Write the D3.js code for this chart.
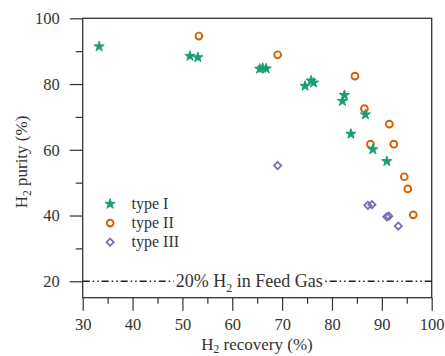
<!DOCTYPE html>
<html>
<head>
<meta charset="utf-8">
<script src="https://cdn.jsdelivr.net/npm/d3@7"></script>
<style>
  body { margin: 0; background: #fff; }
  svg text { font-family: "Liberation Serif", "Times New Roman", serif; fill: #333; }
  .domain { display: none; }
  .tick line { stroke: #333; stroke-width: 1.2; }
</style>
</head>
<body>
<svg width="445" height="356"></svg>
<script>
// H2 recovery (%) and H2 purity (%) per membrane type
var typeIRecovery = [33.3, 51.5, 53.1, 65.5, 66.1, 66.8, 74.6, 75.8, 76.3, 82.1, 82.5, 86.7, 83.8, 88.2, 91.0];
var typeIPurity   = [91.4, 88.5, 88.1, 84.6, 84.9, 84.7, 79.4, 81.0, 80.4, 74.8, 76.6, 70.7, 64.8, 60.1, 56.5];
var typeIIRecovery = [53.3, 69.1, 84.6, 86.5, 91.5, 87.7, 92.4, 94.5, 95.2, 96.3];
var typeIIPurity   = [94.6, 88.9, 82.4, 72.5, 67.8, 61.7, 61.7, 51.8, 48.1, 40.2];
var typeIIIRecovery = [69.1, 87.2, 88.0, 91.0, 91.4, 93.3];
var typeIIIPurity   = [55.2, 43.1, 43.3, 39.6, 39.8, 36.8];

var seriesNames = ['type I', 'type II', 'type III'];
var xTicks = [30, 40, 50, 60, 70, 80, 90, 100];
var xMinorTicks = [35, 45, 55, 65, 75, 85, 95];
var yTicks = [20, 40, 60, 80, 100];
var yMinorTicks = [30, 50, 70, 90];
var feedGasPurity = 20;

var serif = '"Liberation Serif", "Times New Roman", serif';

var svg = d3.select('svg');
var padding = {t: 18.3, r: 13.3, b: 58.3, l: 82.7};
var chartWidth = +svg.attr('width') - padding.l - padding.r;
var chartHeight = +svg.attr('height') - padding.t - padding.b;

var chartG = svg.append('g')
    .attr('transform', 'translate(' + [padding.l, padding.t] + ')');

var xScale = d3.scaleLinear().domain([30, 100]).range([0, chartWidth]);
var yScale = d3.scaleLinear().domain([15, 100]).range([chartHeight, 0]);

// minor ticks first, then labelled ticks
chartG.append('g')
    .attr('transform', 'translate(0,' + chartHeight + ')')
    .call(d3.axisBottom(xScale).tickValues(xMinorTicks).tickSize(6).tickFormat(''));
chartG.append('g')
    .attr('transform', 'translate(0,' + chartHeight + ')')
    .call(d3.axisBottom(xScale).tickValues(xTicks).tickSize(13).tickPadding(8))
    .selectAll('text').style('font-family', serif).style('font-size', '16.5px');

chartG.append('g')
    .call(d3.axisLeft(yScale).tickValues(yMinorTicks).tickSize(7).tickFormat(''));
chartG.append('g')
    .call(d3.axisLeft(yScale).tickValues(yTicks).tickSize(13).tickPadding(10))
    .selectAll('text').style('font-family', serif).style('font-size', '16.5px');

chartG.append('rect')
    .attr('width', chartWidth)
    .attr('height', chartHeight)
    .attr('fill', 'none')
    .attr('stroke', '#333')
    .attr('stroke-width', 1.3);

// feed gas reference line
chartG.append('line')
    .attr('x1', 0)
    .attr('x2', chartWidth)
    .attr('y1', yScale(feedGasPurity))
    .attr('y2', yScale(feedGasPurity))
    .attr('stroke', '#222')
    .attr('stroke-width', 1.6)
    .attr('stroke-dasharray', '7,3,1.5,3,1.5,3');

var refBg = chartG.append('rect').attr('fill', '#fff');
var refLabel = chartG.append('text')
    .attr('x', xScale(63.4))
    .attr('y', yScale(feedGasPurity) + 6)
    .attr('text-anchor', 'middle')
    .style('font-size', '18px');
refLabel.append('tspan').text('20% H');
refLabel.append('tspan').attr('dy', 5).style('font-size', '12px').text('2');
refLabel.append('tspan').attr('dy', -5).text(' in Feed Gas');
var bb = refLabel.node().getBBox();
refBg.attr('x', bb.x - 2)
    .attr('y', yScale(feedGasPurity) - 3)
    .attr('width', bb.width + 4)
    .attr('height', 6);

var colors = {'type I': '#1b9e77', 'type II': '#d95f02', 'type III': '#7570b3'};
var starPath = d3.symbol(d3.symbolStar, 32)();
var squarePath = d3.symbol(d3.symbolSquare, 26)();

function drawMarker(g, name, x, y) {
  if (name === 'type I') {
    g.append('path')
        .attr('d', starPath)
        .attr('transform', 'translate(' + [x, y] + ')')
        .attr('fill', colors[name])
        .attr('stroke', colors[name])
        .attr('stroke-width', 1)
        .attr('stroke-linejoin', 'round');
  } else if (name === 'type II') {
    g.append('circle')
        .attr('cx', x)
        .attr('cy', y)
        .attr('r', 3.4)
        .attr('fill', 'none')
        .attr('stroke', colors[name])
        .attr('stroke-width', 1.9);
  } else {
    g.append('path')
        .attr('d', squarePath)
        .attr('transform', 'translate(' + [x, y] + ') rotate(45)')
        .attr('fill', 'none')
        .attr('stroke', colors[name])
        .attr('stroke-width', 1.8);
  }
}

var series = [
  {name: 'type II', xs: typeIIRecovery, ys: typeIIPurity},
  {name: 'type III', xs: typeIIIRecovery, ys: typeIIIPurity},
  {name: 'type I', xs: typeIRecovery, ys: typeIPurity}
];
series.forEach(function(s) {
  s.xs.forEach(function(v, i) {
    drawMarker(chartG, s.name, xScale(v), yScale(s.ys[i]));
  });
});

// legend
var legendY = d3.scalePoint().domain(seriesNames).range([yScale(43.5), yScale(31.9)]);
seriesNames.forEach(function(name) {
  drawMarker(chartG, name, xScale(35.5), legendY(name));
  chartG.append('text')
      .attr('x', xScale(39.8))
      .attr('y', legendY(name) + 5)
      .style('font-size', '16px')
      .text(name);
});

// axis titles
var xLabel = svg.append('text')
    .attr('x', 257)
    .attr('y', 350)
    .attr('text-anchor', 'middle')
    .style('font-size', '17px');
xLabel.append('tspan').text('H');
xLabel.append('tspan').attr('dy', 3).style('font-size', '11.5px').text('2');
xLabel.append('tspan').attr('dy', -3).text(' recovery (%)');

var yLabel = svg.append('text')
    .attr('transform', 'translate(26.5, 162) rotate(-90)')
    .attr('text-anchor', 'middle')
    .style('font-size', '17px');
yLabel.append('tspan').text('H');
yLabel.append('tspan').attr('dy', 4).style('font-size', '11.5px').text('2');
yLabel.append('tspan').attr('dy', -4).text(' purity (%)');
</script>
</body>
</html>
